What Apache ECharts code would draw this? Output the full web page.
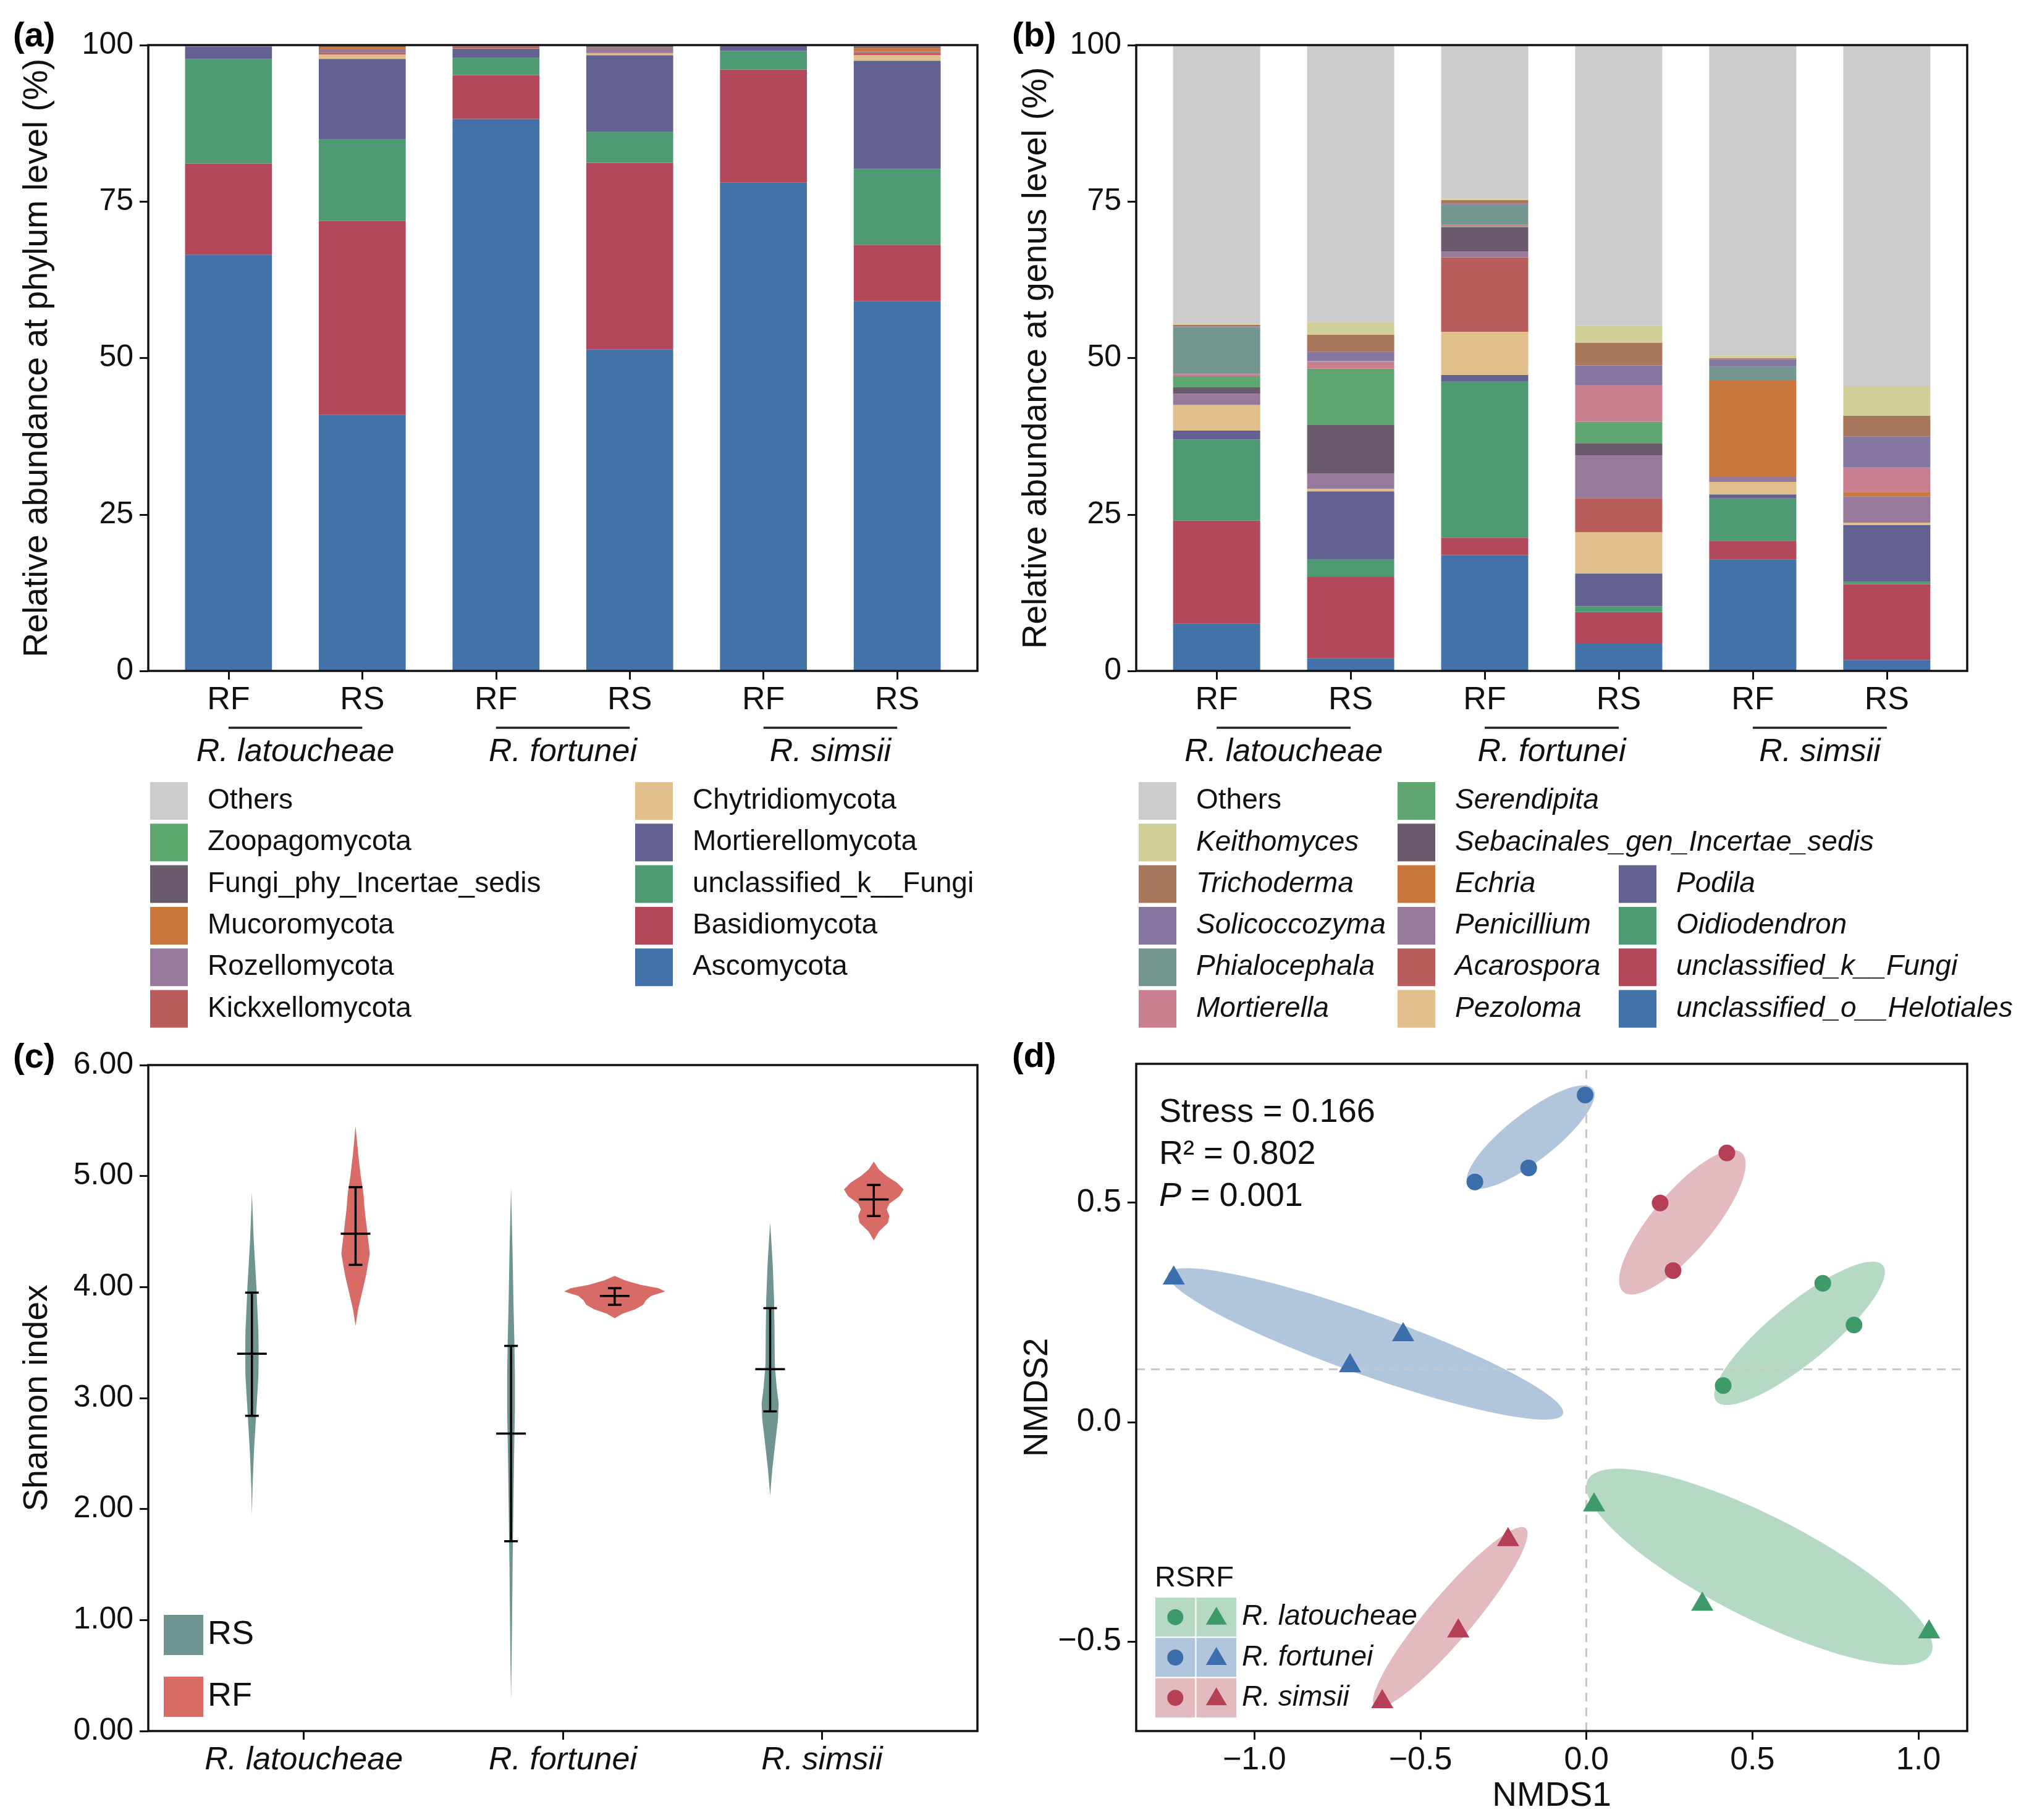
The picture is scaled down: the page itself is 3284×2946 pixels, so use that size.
<!DOCTYPE html>
<html><head><meta charset="utf-8">
<script src="https://cdn.jsdelivr.net/npm/echarts@6.0.0/dist/echarts.min.js"></script>
<style>html,body{margin:0;padding:0;background:#fff}#c{width:3284px;height:2946px}</style>
</head><body><div id="c"></div>
<script>
// ---------------- DATA ----------------
const sampleLabels = ['RF','RS','RF','RS','RF','RS'];
const speciesNames = ['R. latoucheae','R. fortunei','R. simsii'];
const groupSpans = [[0,1],[2,3],[4,5]];

// (a) phylum level, stacked bottom -> top
const phylumNames = ['Ascomycota','Basidiomycota','unclassified_k__Fungi','Mortierellomycota','Chytridiomycota','Kickxellomycota','Rozellomycota','Mucoromycota','Fungi_phy_Incertae_sedis','Zoopagomycota','Others'];
const Ascomycota               = [66.5, 40.9, 88.2, 51.4, 78.0, 59.1];
const Basidiomycota            = [14.6, 31.0,  7.0, 29.8, 18.1,  9.0];
const unclassified_k__Fungi_ph = [16.7, 13.1, 2.76,  4.9, 2.96, 12.1];
const Mortierellomycota        = [ 1.9, 12.8, 1.44, 12.3, 0.82, 17.3];
const Chytridiomycota          = [0.03,  0.7, 0.05,  0.3, 0.02,  0.9];
const Kickxellomycota          = [ 0.1,  0.3,  0.3,  0.1, 0.03, 0.35];
const Rozellomycota            = [ 0.1,  0.5, 0.15,  0.8, 0.02,  0.2];
const Mucoromycota             = [0.02,  0.4, 0.05, 0.05, 0.02,  0.6];
const Fungi_phy_Incertae_sedis = [0.02, 0.15, 0.03,  0.2, 0.01, 0.15];
const Zoopagomycota            = [0.02,  0.1, 0.02, 0.05, 0.01,  0.1];
const Others_phylum            = [0.01, 0.05, 0.01, 0.05, 0.01, 0.05];

// (b) genus level, stacked bottom -> top
const genusNames = ['unclassified_o__Helotiales','unclassified_k__Fungi','Oidiodendron','Podila','Pezoloma','Acarospora','Penicillium','Echria','Sebacinales_gen_Incertae_sedis','Serendipita','Mortierella','Phialocephala','Solicoccozyma','Trichoderma','Keithomyces','Others'];
const unclassified_o__Helotiales = [ 7.57,  2.0, 18.5, 4.44, 17.8, 1.75];
const unclassified_k__Fungi_gen  = [16.45, 13.0,  2.8, 4.97,  3.0, 12.1];
const Oidiodendron               = [12.98, 2.86, 25.0,  0.9, 6.77,  0.4];
const Podila                     = [  1.4, 10.84, 1.0, 5.27, 0.63, 9.05];
const Pezoloma                   = [  4.1,  0.4,  6.9, 6.58,  2.0,  0.4];
const Acarospora                 = [    0,    0, 11.9, 5.45,    0,    0];
const Penicillium                = [  1.8,  2.5,  0.9,  6.8,  0.9,  4.2];
const Echria                     = [    0,    0,    0,    0, 15.4,  0.7];
const Sebacinales_gen            = [  1.0,  7.7,  3.9,  2.0,    0,    0];
const Serendipita                = [  1.8,  9.0, 0.15,  3.4,    0,    0];
const Mortierella                = [ 0.35,  1.1, 0.25,  5.9,    0,  3.9];
const Phialocephala              = [  7.5,  0.1,  3.2,    0,  2.1,    0];
const Solicoccozyma              = [  0.1,  1.5, 0.15,  3.1,  1.2,  5.0];
const Trichoderma                = [ 0.25,  2.7,  0.6, 3.65, 0.15,  3.3];
const Keithomyces                = [ 0.25, 2.05,  0.2, 2.75, 0.45,  4.7];
const Others_genus               = [44.45, 44.25, 24.55, 44.8, 49.6, 54.5];

// (c) Shannon index: violin profiles [value, half-width in category-band units]
const violinRS_latoucheae = [[1.95,0],[2.2,0.0025],[2.5,0.0075],[2.8,0.015],[3.0,0.02],[3.2,0.025],[3.4,0.026],[3.6,0.025],[3.8,0.021],[4.0,0.0175],[4.2,0.0125],[4.4,0.0075],[4.6,0.004],[4.85,0]];
const violinRS_fortunei   = [[0.28,0],[0.6,0.002],[1.0,0.004],[1.5,0.006],[2.0,0.009],[2.5,0.012],[2.9,0.015],[3.2,0.015],[3.5,0.013],[3.9,0.009],[4.3,0.006],[4.6,0.003],[4.9,0]];
const violinRS_simsii     = [[2.12,0],[2.35,0.008],[2.6,0.02],[2.8,0.03],[2.95,0.033],[3.1,0.025],[3.3,0.018],[3.6,0.017],[3.9,0.015],[4.2,0.01],[4.4,0.005],[4.58,0]];
const violinRF_latoucheae = [[3.65,0],[3.8,0.01],[3.9,0.02],[4.1,0.04],[4.3,0.055],[4.5,0.045],[4.7,0.035],[4.85,0.03],[5.0,0.02],[5.2,0.01],[5.45,0]];
const violinRF_fortunei   = [[3.72,0],[3.76,0.03],[3.8,0.08],[3.84,0.11],[3.88,0.12],[3.92,0.14],[3.96,0.195],[3.99,0.17],[4.02,0.1],[4.06,0.04],[4.1,0]];
const violinRF_simsii     = [[4.42,0],[4.5,0.02],[4.58,0.055],[4.64,0.06],[4.7,0.05],[4.75,0.06],[4.82,0.1],[4.88,0.115],[4.94,0.09],[5.0,0.05],[5.06,0.02],[5.13,0]];
const meanRS = [3.40, 2.68, 3.26];
const lowRS  = [2.84, 1.71, 2.88];
const highRS = [3.95, 3.47, 3.81];
const meanRF = [4.48, 3.92, 4.79];
const lowRF  = [4.20, 3.84, 4.64];
const highRF = [4.90, 3.99, 4.92];

// (d) NMDS
const nmdsRS_latoucheae = [[0.712,0.316],[0.806,0.221],[0.412,0.083]];
const nmdsRF_latoucheae = [[0.023,-0.182],[0.349,-0.408],[1.032,-0.471]];
const nmdsRS_fortunei   = [[-0.004,0.745],[-0.174,0.579],[-0.336,0.547]];
const nmdsRF_fortunei   = [[-1.243,0.335],[-0.552,0.206],[-0.712,0.135]];
const nmdsRS_simsii     = [[0.423,0.613],[0.222,0.499],[0.261,0.345]];
const nmdsRF_simsii     = [[-0.236,-0.261],[-0.386,-0.469],[-0.615,-0.630]];
// ellipses: [cx, cy, semi-axis1 dx, dy, semi-axis2 dx, dy]
const ellipseRS_latoucheae = [0.642, 0.202, 0.2459, 0.1582, 0.0747, -0.0406];
const ellipseRF_latoucheae = [0.521, -0.330, 0.5112, -0.2044, -0.1037, -0.0910];
const ellipseRS_fortunei   = [-0.168, 0.649, 0.1834, 0.1132, 0.0592, -0.0336];
const ellipseRF_fortunei   = [-0.665, 0.178, 0.5934, -0.1615, -0.0473, -0.0608];
const ellipseRS_simsii     = [0.289, 0.455, 0.1717, 0.1617, 0.0825, -0.0308];
const ellipseRF_simsii     = [-0.410, -0.445, 0.2244, 0.2044, 0.0622, -0.0239];
const nmdsXTicks = [-1, -0.5, 0, 0.5, 1];
const nmdsYTicks = [-0.5, 0, 0.5];
const refLineX = 0;
const refLineY = 0.121;
const stressText = 'Stress = 0.166';
const r2Text = 'R\u00B2 = 0.802';
const pText = '0.001';

// ---------------- STYLE / LAYOUT ----------------
const FONT = '"Liberation Sans", Arial, Helvetica, sans-serif';
const INK = '#111111';
const phylumColors = ['#4272A8','#B3485A','#4E9A73','#626191','#E2C08E','#B85C5C','#977A9B','#C9773C','#6B5A6B','#5DA86F','#CCCCCC'];
const genusColors = ['#4272A8','#B3485A','#4E9A73','#626191','#E2C08E','#B85C5C','#977A9B','#C9773C','#6B5A6B','#5FA670','#C97F8F','#739690','#85779F','#A8765A','#CFCF97','#CCCCCC'];
const RS_COL = '#6E9590', RF_COL = '#D96B66';
const spColors = {lat:'#3E9A69', for:'#3B6EAA', sim:'#B53F54'};
const spFill = {lat:'rgba(62,154,105,0.38)', for:'rgba(59,110,170,0.40)', sim:'rgba(181,63,84,0.36)'};

const PA = {left:240, top:73, width:1342, height:1013};
const PB = {left:1839, top:73, width:1345, height:1013};
const PC = {left:240, top:1724, width:1342, height:1078};
const PD = {left:1839, top:1722, width:1345, height:1080};
function inner(p, n){ const ins = p.width*0.1/(n-1+1.2); return {left:p.left+ins, top:p.top, width:p.width-2*ins, height:p.height}; }
const PAi = inner(PA,6), PBi = inner(PB,6), PCi = inner(PC,3);

const frameGrid = p => ({left:p.left, top:p.top, width:p.width, height:p.height, show:true, borderColor:'#111', borderWidth:3.5, backgroundColor:'transparent', z:10});
const plainGrid = p => ({left:p.left, top:p.top, width:p.width, height:p.height, show:false});
const tick = {show:true, length:14, inside:false, lineStyle:{color:INK, width:3}};
const hiddenX = gi => ({gridIndex:gi, type:'value', show:false, min:0, max:1});
const hiddenY = (gi,min,max) => ({gridIndex:gi, type:'value', show:false, min, max});

const phylumArrays = [Ascomycota,Basidiomycota,unclassified_k__Fungi_ph,Mortierellomycota,Chytridiomycota,Kickxellomycota,Rozellomycota,Mucoromycota,Fungi_phy_Incertae_sedis,Zoopagomycota,Others_phylum];
const genusArrays = [unclassified_o__Helotiales,unclassified_k__Fungi_gen,Oidiodendron,Podila,Pezoloma,Acarospora,Penicillium,Echria,Sebacinales_gen,Serendipita,Mortierella,Phialocephala,Solicoccozyma,Trichoderma,Keithomyces,Others_genus];

function bars(names, arrays, colors, xi, yi, stack){
  return names.map((n,k)=>({type:'bar', name:n, xAxisIndex:xi, yAxisIndex:yi, stack:stack, barWidth:'65%',
    data:arrays[k], itemStyle:{color:colors[k]}, silent:true, emphasis:{disabled:true}, z:2}));
}
function groupLines(xi, yi){
  return {type:'custom', xAxisIndex:xi, yAxisIndex:yi, data:groupSpans, silent:true, clip:false, encode:{x:[0,1]},
    renderItem:(params, api)=>{
      const p1 = api.coord([api.value(0), 0]), p2 = api.coord([api.value(1), 0]);
      const y = p1[1] + 92;
      return {type:'line', shape:{x1:p1[0], y1:y, x2:p2[0], y2:y}, style:{stroke:'#222', lineWidth:3.5}};
    }};
}
function violin(name, color, profiles, means, lows, highs, offset){
  return {type:'custom', name:name, xAxisIndex:7, yAxisIndex:5, itemStyle:{color:color}, silent:true, clip:false,
    data: means.map((m,i)=>[i, m, lows[i], highs[i]]), encode:{x:0, y:[1,2,3]},
    renderItem:(params, api)=>{
      const i = params.dataIndex, prof = profiles[i];
      const band = api.size([1,0])[0];
      const cx = api.coord([i,0])[0] + offset*band;
      const R = [], L = [];
      prof.forEach(pt=>{ const y = api.coord([i, pt[0]])[1]; R.push([cx+pt[1]*band, y]); L.push([cx-pt[1]*band, y]); });
      const pts = R.concat(L.reverse());
      const ym = api.coord([i, api.value(1)])[1], yl = api.coord([i, api.value(2)])[1], yh = api.coord([i, api.value(3)])[1];
      const st = {stroke:'#000', lineWidth:3.5};
      return {type:'group', children:[
        {type:'polygon', shape:{points:pts}, style:{fill:color}},
        {type:'line', shape:{x1:cx, y1:yl, x2:cx, y2:yh}, style:st},
        {type:'line', shape:{x1:cx-11, y1:yl, x2:cx+11, y2:yl}, style:st},
        {type:'line', shape:{x1:cx-11, y1:yh, x2:cx+11, y2:yh}, style:st},
        {type:'line', shape:{x1:cx-24, y1:ym, x2:cx+24, y2:ym}, style:st}
      ]};
    }};
}
function ellipseSeries(params, fill){
  return {type:'custom', xAxisIndex:8, yAxisIndex:6, data:[params], silent:true, z:1, encode:{x:0, y:1},
    renderItem:(p, api)=>{
      const pts = [];
      for (let k=0;k<120;k++){ const t = k/120*2*Math.PI;
        pts.push(api.coord([params[0]+params[2]*Math.cos(t)+params[4]*Math.sin(t), params[1]+params[3]*Math.cos(t)+params[5]*Math.sin(t)])); }
      return {type:'polygon', shape:{points:pts}, style:{fill:fill}};
    }};
}
function pts(data, color, symbol, size){
  return {type:'scatter', xAxisIndex:8, yAxisIndex:6, data:data, symbol:symbol, symbolSize:size, itemStyle:{color:color, opacity:1}, silent:true, z:5};
}

const axisLbl = (size, extra) => Object.assign({color:INK, fontSize:size, fontFamily:FONT}, extra||{});
const minus = v => (v < 0 ? '\u2212' : '') + Math.abs(v).toFixed(1);

function legendCol(left, top, names, colors, italic){
  return {orient:'vertical', left:left, top:top, padding:0, itemWidth:61, itemHeight:61, itemGap:6.3, icon:'rect', selectedMode:false,
    textStyle:{fontSize:46, fontFamily:FONT, color:INK, fontStyle: italic?'italic':'normal', padding:[0,0,0,27]},
    data: names.map((n,k)=>({name:n, icon:'rect', itemStyle:{color:colors[k], borderWidth:0},
      textStyle:{fontStyle:(italic && n!=='Others')?'italic':'normal'}}))};
}
const pColor = n => phylumColors[phylumNames.indexOf(n)];
const gColor = n => genusColors[genusNames.indexOf(n)];
const la1 = ['Others','Zoopagomycota','Fungi_phy_Incertae_sedis','Mucoromycota','Rozellomycota','Kickxellomycota'];
const la2 = ['Chytridiomycota','Mortierellomycota','unclassified_k__Fungi','Basidiomycota','Ascomycota'];
const lb1 = ['Others','Keithomyces','Trichoderma','Solicoccozyma','Phialocephala','Mortierella'];
const lb2 = ['Serendipita','Sebacinales_gen_Incertae_sedis','Echria','Penicillium','Acarospora','Pezoloma'];
const lb3 = ['Podila','Oidiodendron','unclassified_k__Fungi','unclassified_o__Helotiales'];

// ---------------- D legend (graphic key) ----------------
const keyRows = [['R. latoucheae','lat'],['R. fortunei','for'],['R. simsii','sim']];
const keyX = 1869, keyY = 2585, cellW = 66.5, cellH = 65.3;
const keyEls = [{type:'text', style:{x:keyX, y:keyY-30, text:'RSRF', font:'47px '+FONT, fill:INK, verticalAlign:'middle'}}];
keyRows.forEach((r,i)=>{
  const y0 = keyY + i*cellH, cy = y0 + cellH/2;
  keyEls.push({type:'rect', shape:{x:keyX, y:y0, width:cellW, height:cellH}, style:{fill:spFill[r[1]], stroke:'#fff', lineWidth:2}});
  keyEls.push({type:'rect', shape:{x:keyX+cellW, y:y0, width:cellW, height:cellH}, style:{fill:spFill[r[1]], stroke:'#fff', lineWidth:2}});
  keyEls.push({type:'circle', shape:{cx:keyX+cellW/2, cy:cy, r:13}, style:{fill:spColors[r[1]]}});
  const tx = keyX+cellW*1.5;
  keyEls.push({type:'polygon', shape:{points:[[tx, cy-17],[tx+17, cy+12],[tx-17, cy+12]]}, style:{fill:spColors[r[1]]}});
  keyEls.push({type:'text', style:{x:keyX+2*cellW+8, y:cy, text:r[0], font:'italic 46px '+FONT, fill:INK, verticalAlign:'middle'}});
});

const option = {
  animation:false,
  backgroundColor:'#fff',
  textStyle:{fontFamily:FONT},
  grid:[frameGrid(PA), plainGrid(PAi), frameGrid(PB), plainGrid(PBi), frameGrid(PC), plainGrid(PCi), frameGrid(PD)],
  xAxis:[
    hiddenX(0),
    {gridIndex:1, type:'category', data:sampleLabels, position:'bottom', axisLine:{show:false}, axisTick:Object.assign({alignWithLabel:true}, tick), axisLabel:axisLbl(52,{margin:22})},
    {gridIndex:1, type:'category', data:speciesNames, position:'bottom', offset:0, axisLine:{show:false}, axisTick:{show:false}, axisLabel:axisLbl(52,{margin:106, fontStyle:'italic'})},
    hiddenX(2),
    {gridIndex:3, type:'category', data:sampleLabels, position:'bottom', axisLine:{show:false}, axisTick:Object.assign({alignWithLabel:true}, tick), axisLabel:axisLbl(52,{margin:22})},
    {gridIndex:3, type:'category', data:speciesNames, position:'bottom', offset:0, axisLine:{show:false}, axisTick:{show:false}, axisLabel:axisLbl(52,{margin:106, fontStyle:'italic'})},
    hiddenX(4),
    {gridIndex:5, type:'category', data:speciesNames, position:'bottom', axisLine:{show:false}, axisTick:Object.assign({alignWithLabel:true}, tick), axisLabel:axisLbl(52,{margin:22, fontStyle:'italic'})},
    {gridIndex:6, type:'value', position:'bottom', min:-1.356, max:1.147, minInterval:0.5, maxInterval:0.5, axisLine:{show:false, onZero:false}, splitLine:{show:false},
      axisTick:Object.assign({customValues:nmdsXTicks}, tick),
      axisLabel:axisLbl(52,{margin:22, formatter:minus, customValues:nmdsXTicks}),
      name:'NMDS1', nameLocation:'middle', nameGap:78, nameTextStyle:{fontSize:55, color:INK, fontFamily:FONT}}
  ],
  yAxis:[
    {gridIndex:0, type:'value', min:0, max:100, interval:25, axisLine:{show:false}, splitLine:{show:false}, axisTick:tick, axisLabel:axisLbl(50,{margin:24}),
      name:'Relative abundance at phylum level (%)', nameLocation:'middle', nameGap:152, nameTextStyle:{fontSize:55, color:INK, fontFamily:FONT}},
    hiddenY(1,0,100),
    {gridIndex:2, type:'value', min:0, max:100, interval:25, axisLine:{show:false}, splitLine:{show:false}, axisTick:tick, axisLabel:axisLbl(50,{margin:24}),
      name:'Relative abundance at genus level (%)', nameLocation:'middle', nameGap:134, nameTextStyle:{fontSize:55, color:INK, fontFamily:FONT}},
    hiddenY(3,0,100),
    {gridIndex:4, type:'value', min:0, max:6, interval:1, axisLine:{show:false}, splitLine:{show:false}, axisTick:tick, axisLabel:axisLbl(50,{margin:24, formatter:v=>v.toFixed(2)}),
      name:'Shannon index', nameLocation:'middle', nameGap:152, nameTextStyle:{fontSize:55, color:INK, fontFamily:FONT}},
    hiddenY(5,0,6),
    {gridIndex:6, type:'value', position:'left', min:-0.704, max:0.816, minInterval:0.5, maxInterval:0.5, axisLine:{show:false, onZero:false}, splitLine:{show:false},
      axisTick:Object.assign({customValues:nmdsYTicks}, tick),
      axisLabel:axisLbl(52,{margin:24, formatter:minus, customValues:nmdsYTicks}),
      name:'NMDS2', nameLocation:'middle', nameGap:132, nameTextStyle:{fontSize:55, color:INK, fontFamily:FONT}}
  ],
  legend:[
    legendCol(243, 1266, la1, la1.map(pColor), false),
    legendCol(1028, 1266, la2, la2.map(pColor), false),
    legendCol(1843, 1266, lb1, lb1.map(gColor), true),
    legendCol(2262, 1266, lb2, lb2.map(gColor), true),
    legendCol(2620, 1266+2*67.3, lb3, lb3.map(gColor), true),
    {orient:'vertical', left:265, top:2614, padding:0, itemWidth:64, itemHeight:65, itemGap:35, icon:'rect', selectedMode:false,
      textStyle:{fontSize:54, fontFamily:FONT, color:INK, padding:[0,0,0,2]},
      data:[{name:'RS', itemStyle:{color:RS_COL}},{name:'RF', itemStyle:{color:RF_COL}}]}
  ],
  graphic:[
    {type:'text', z:100, style:{x:21, y:60, text:'(a)', font:'bold 56px '+FONT, fill:'#000', verticalAlign:'middle'}},
    {type:'text', z:100, style:{x:1638, y:60, text:'(b)', font:'bold 56px '+FONT, fill:'#000', verticalAlign:'middle'}},
    {type:'text', z:100, style:{x:21, y:1713, text:'(c)', font:'bold 56px '+FONT, fill:'#000', verticalAlign:'middle'}},
    {type:'text', z:100, style:{x:1638, y:1712, text:'(d)', font:'bold 56px '+FONT, fill:'#000', verticalAlign:'middle'}},
    {type:'text', z:100, style:{x:1876, y:1801, text:stressText, font:'54px '+FONT, fill:INK, verticalAlign:'middle'}},
    {type:'text', z:100, style:{x:1876, y:1869, text:r2Text, font:'54px '+FONT, fill:INK, verticalAlign:'middle'}},
    {type:'text', z:100, style:{x:1876, y:1937, text:'{i|P} = '+pText, font:'54px '+FONT, fill:INK, verticalAlign:'middle',
      rich:{i:{fontStyle:'italic', fontSize:54, fontFamily:FONT, fill:INK}}}},
    {type:'group', z:100, children:keyEls}
  ],
  series:[].concat(
    bars(phylumNames, phylumArrays, phylumColors, 1, 1, 'phylum'),
    [groupLines(1,1)],
    bars(genusNames, genusArrays, genusColors, 4, 3, 'genus'),
    [groupLines(4,3)],
    [violin('RS', RS_COL, [violinRS_latoucheae, violinRS_fortunei, violinRS_simsii], meanRS, lowRS, highRS, -0.2),
     violin('RF', RF_COL, [violinRF_latoucheae, violinRF_fortunei, violinRF_simsii], meanRF, lowRF, highRF, 0.2)],
    [ellipseSeries(ellipseRS_latoucheae, spFill.lat), ellipseSeries(ellipseRF_latoucheae, spFill.lat),
     ellipseSeries(ellipseRS_fortunei, spFill.for), ellipseSeries(ellipseRF_fortunei, spFill.for),
     ellipseSeries(ellipseRS_simsii, spFill.sim), ellipseSeries(ellipseRF_simsii, spFill.sim)],
    [{type:'scatter', xAxisIndex:8, yAxisIndex:6, data:[], silent:true, z:3,
      markLine:{silent:true, symbol:['none','none'], label:{show:false}, animation:false,
        lineStyle:{type:[14,10], color:'#C8C8C8', width:3},
        data:[{xAxis:refLineX},{yAxis:refLineY}]}}],
    [pts(nmdsRS_latoucheae, spColors.lat, 'circle', 27), pts(nmdsRF_latoucheae, spColors.lat, 'triangle', [36,31]),
     pts(nmdsRS_fortunei, spColors.for, 'circle', 27), pts(nmdsRF_fortunei, spColors.for, 'triangle', [36,31]),
     pts(nmdsRS_simsii, spColors.sim, 'circle', 27), pts(nmdsRF_simsii, spColors.sim, 'triangle', [36,31])]
  )
};
const chart = echarts.init(document.getElementById('c'), null, {renderer:'canvas', width:3284, height:2946});
chart.setOption(option);
</script>
</body></html>
